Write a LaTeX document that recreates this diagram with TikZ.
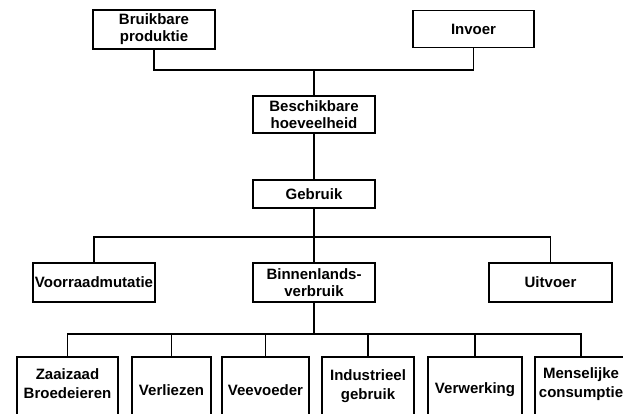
\documentclass[tikz,border=0pt]{standalone}
\usepackage{fontspec}
\setmainfont{Liberation Sans}
\begin{document}
\begin{tikzpicture}[x=1pt,y=-1pt,line width=1.7pt,
  lbl/.style={rectangle,inner sep=0pt,align=center,
    font=\fontsize{15}{17}\selectfont\bfseries},
  box/.style={lbl,draw},
  lowlbl/.style={lbl,font=\fontsize{15}{19}\selectfont\bfseries}]
\useasboundingbox (0,0) rectangle (623,413);
\clip (0,0) rectangle (623,413);
% top row
\node[box,minimum width=122pt,minimum height=39pt] (bruik) at (154,29.5) {Bruikbare\\produktie};
\node[box,minimum width=121pt,minimum height=37pt] (invoer) at (473.5,29) {Invoer};
\node[box,minimum width=122pt,minimum height=37pt] (besch) at (314,114.5) {Beschikbare\\hoeveelheid};
\node[box,minimum width=122pt,minimum height=28pt] (gebruik) at (314,194) {Gebruik};
% middle row
\node[box,minimum width=122pt,minimum height=39pt] (voorraad) at (94,282.5) {Voorraadmutatie};
\node[box,minimum width=122pt,minimum height=39pt] (binnen) at (314,282.5) {Binnenlands-\\verbruik};
\node[box,minimum width=123pt,minimum height=39pt] (uitvoer) at (550.5,282.5) {Uitvoer};
% bottom row (boxes run past the lower edge); north edge at y=358
\node[lowlbl,minimum width=99pt,minimum height=52pt] (zaai) at (67.5,384) {Zaaizaad\\Broedeieren};
\node[lowlbl,minimum width=77pt,minimum height=64pt] (verl) at (171.5,390) {Verliezen};
\node[lowlbl,minimum width=85pt,minimum height=64pt] (vee) at (265.5,390) {Veevoeder};
\node[lowlbl,minimum width=90pt,minimum height=56pt] (indus) at (368,386) {Industrieel\\gebruik};
\node[lowlbl,minimum width=92pt,minimum height=64pt] (verw) at (475,390) {Verwerking};
\node[lowlbl,minimum width=90pt,minimum height=52pt] (mens) at (581,384) {Menselijke\\consumptie};
\foreach \n in {zaai,verl,vee,indus,verw,mens}
  \draw (\n.north west) rectangle ([yshift=-40pt]\n.south east);
% connectors
\coordinate (bus0) at (314,70);
\coordinate (bus1) at (314,237);
\coordinate (bus2) at (314,334);
\draw (bruik.south) |- (bus0) -| (invoer.south);
\draw (bus0) -- (besch.north);
\draw (besch.south) -- (gebruik.north);
\draw (voorraad.north) |- (bus1) -| (uitvoer.north);
\draw (gebruik.south) -- (binnen.north);
\draw (zaai.north) |- (bus2) -| (mens.north);
\draw (binnen.south) -- (bus2);
\foreach \n in {verl,vee,indus,verw}
  \draw (\n.north) -- (\n.north |- bus2);
\end{tikzpicture}
\end{document}
